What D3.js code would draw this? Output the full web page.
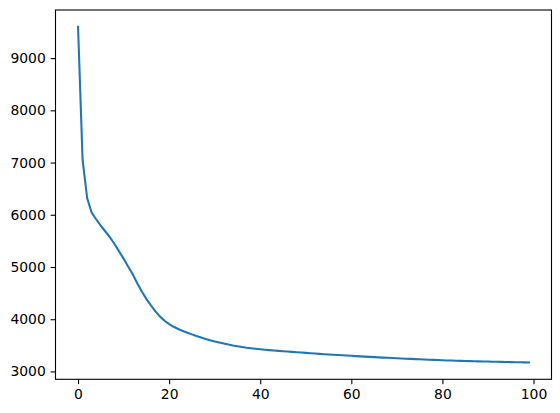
<!DOCTYPE html>
<html>
<head>
<meta charset="utf-8">
<script src="https://cdn.jsdelivr.net/npm/d3@7"></script>
<style>
  html, body { margin: 0; padding: 0; background: #fff; }
  svg { display: block; }
  .tick text { font-family: "DejaVu Sans", sans-serif; font-size: 13.9px; fill: #000; }
</style>
</head>
<body>
<svg id="chart" width="560" height="413"></svg>
<script>
const values = [
  9600, 7050, 6320, 6040, 5910, 5790, 5680, 5570, 5440, 5300,
  5160, 5010, 4860, 4690, 4530, 4390, 4265, 4150, 4050, 3970,
  3905, 3855, 3812, 3775, 3742, 3710, 3680, 3650, 3622, 3597,
  3575, 3553, 3533, 3514, 3497, 3482, 3468, 3455, 3444, 3434,
  3425, 3416, 3408, 3401, 3394, 3388, 3381, 3375, 3369, 3362,
  3356, 3349, 3342, 3336, 3330, 3325, 3319, 3314, 3309, 3304,
  3299, 3294, 3289, 3284, 3279, 3274, 3270, 3265, 3261, 3257,
  3252, 3248, 3244, 3240, 3236, 3232, 3228, 3225, 3221, 3218,
  3214, 3211, 3208, 3205, 3202, 3199, 3197, 3195, 3193, 3191,
  3189, 3187, 3185, 3183, 3181, 3179, 3177, 3175, 3173, 3171
];
const xTicks = [0, 20, 40, 60, 80, 100];
const yTicks = [3000, 4000, 5000, 6000, 7000, 8000, 9000];

const svg = d3.select("#chart");
const pL = 55.5, pR = 551.5, pT = 10, pB = 379.3;

const n = values.length;
const xPad = (n - 1) * 0.05;
const x = d3.scaleLinear().domain([-xPad, n - 1 + xPad]).range([pL, pR]);
const [ymin, ymax] = d3.extent(values);
const yPad = (ymax - ymin) * 0.05;
const y = d3.scaleLinear().domain([ymin - yPad, ymax + yPad]).range([pB, pT]);

const tickLen = 4.86, tickPad = 4.86;

const line = d3.line().x((d, i) => x(i)).y(d => y(d));

svg.append("path")
  .datum(values)
  .attr("d", line)
  .attr("fill", "none")
  .attr("stroke", "#1f77b4")
  .attr("stroke-width", 2.08)
  .attr("stroke-linejoin", "round")
  .attr("stroke-linecap", "square");

const xAxis = svg.append("g")
  .attr("transform", `translate(0,${pB})`)
  .call(d3.axisBottom(x).tickValues(xTicks).tickFormat(d3.format("d")).tickSize(tickLen).tickPadding(tickPad));
const yAxis = svg.append("g")
  .attr("transform", `translate(${pL},0)`)
  .call(d3.axisLeft(y).tickValues(yTicks).tickFormat(d3.format("d")).tickSize(tickLen).tickPadding(tickPad));

[xAxis, yAxis].forEach(g => {
  g.select(".domain").remove();
  g.selectAll(".tick line").attr("stroke", "#000").attr("stroke-width", 1.1);
  g.attr("font-family", null).attr("font-size", null);
});

svg.append("rect")
  .attr("x", pL).attr("y", pT)
  .attr("width", pR - pL).attr("height", pB - pT)
  .attr("fill", "none")
  .attr("stroke", "#000")
  .attr("stroke-width", 1.1);
</script>
</body>
</html>
